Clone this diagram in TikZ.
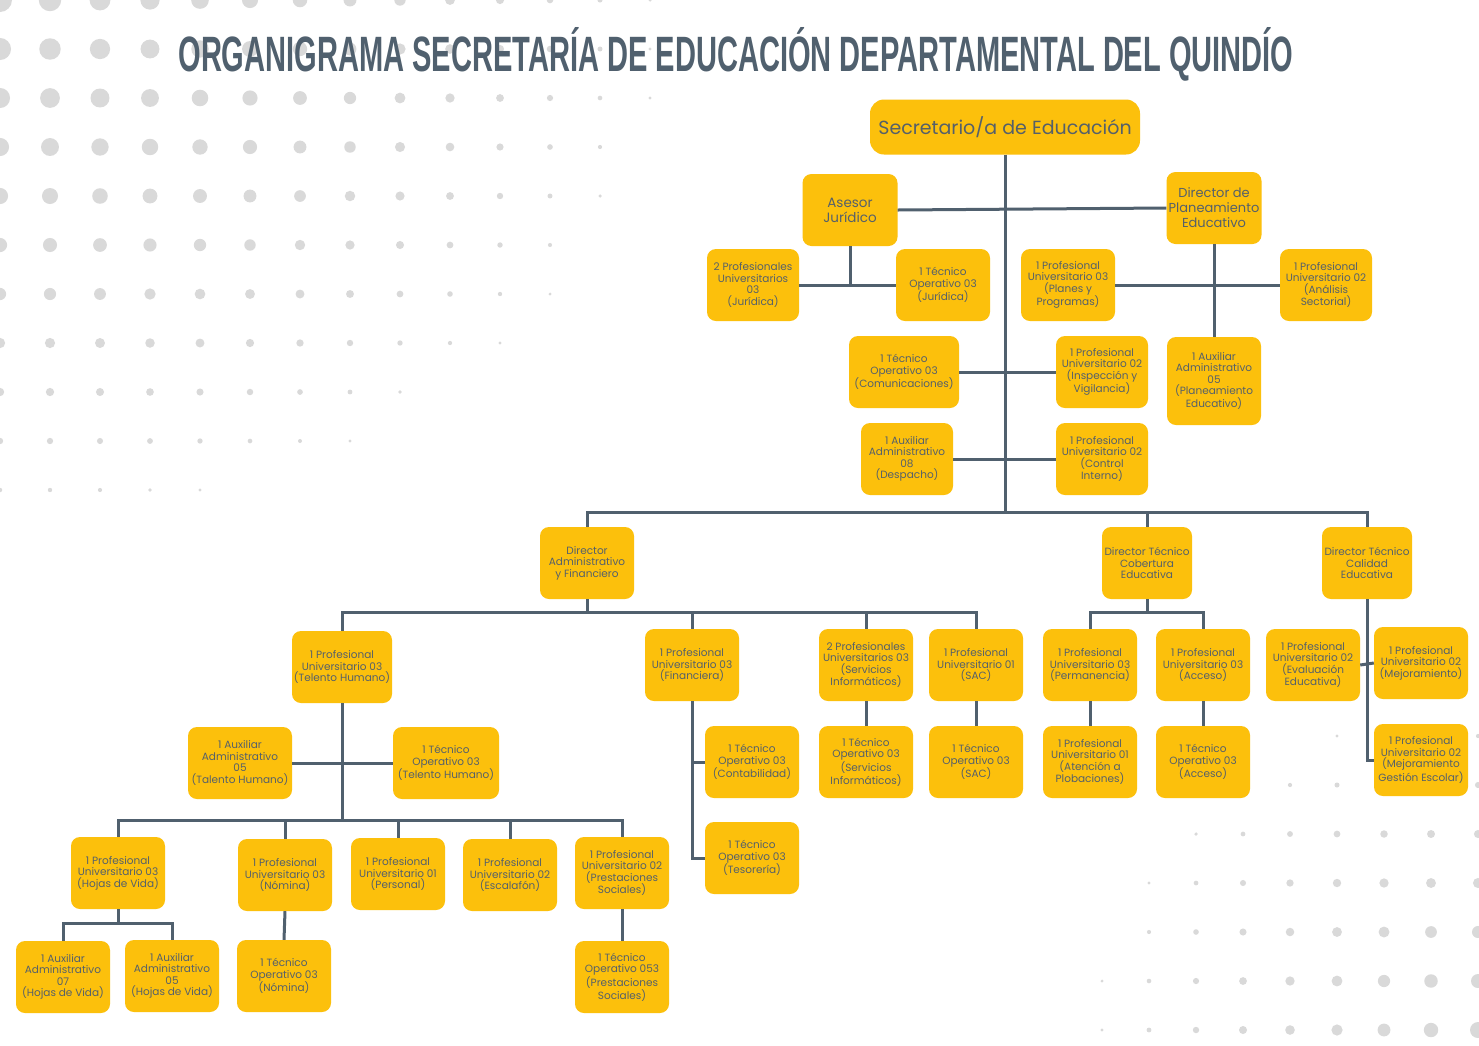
\documentclass[tikz,border=0pt]{standalone}
\usepackage{fontspec}
\usepackage{graphicx}
\setmainfont{Poppins}
\newfontfamily\titlefont{Liberation Sans}
\definecolor{boxc}{RGB}{252,192,12}
\definecolor{txtc}{RGB}{85,96,106}
\definecolor{linec}{RGB}{80,96,110}
\definecolor{dotc}{RGB}{217,217,217}
\tikzset{
 bx/.style={fill=boxc,rounded corners=9pt,align=center,text=txtc,inner sep=1pt,font=\fontsize{10.5}{11.5}\selectfont},
 cn/.style={draw=linec,line width=3pt},
}
\newcommand{\bxn}[6]{\node[bx,minimum width=#4pt,minimum height=#5pt] (#1) at (#2,#3) {#6};}
\begin{document}
\begin{tikzpicture}[x=1pt,y=-1pt]
\useasboundingbox (0,0) rectangle (1479,1045);
\fill[white] (0,0) rectangle (1479,1045);
% dots
\foreach \i in {0,...,14}{\foreach \j in {0,...,21}{
  \pgfmathsetmacro{\dx}{\i*0.5}\pgfmathsetmacro{\dy}{\j*0.49}
  \pgfmathsetmacro{\r}{12*(1-sqrt(\dx*\dx+\dy*\dy*1.6)/7.6)}
  \ifdim\r pt>1.5pt \fill[dotc] (\i*50,\j*49) circle (\r);\fi
}}
\foreach \i in {0,...,10}{\foreach \j in {0,...,9}{
  \pgfmathsetmacro{\dx}{\i*0.47}\pgfmathsetmacro{\dy}{\j*0.49}
  \pgfmathsetmacro{\r}{8*(1-sqrt(\dx*\dx+\dy*\dy*1.4)/4.7)}
  \ifdim\r pt>1.5pt \fill[dotc] (1478-\i*47,1030-\j*49) circle (\r);\fi
}}
\node[text=linec,inner sep=0] (title) at (736,54) {\resizebox{1115pt}{44pt}{\titlefont\bfseries ORGANIGRAMA SECRETARÍA DE EDUCACIÓN DEPARTAMENTAL DEL QUINDÍO}};
% nodes
\node[bx,minimum width=270pt,minimum height=55pt,rounded corners=14pt,font=\fontsize{19}{22}\selectfont] (sec) at (1005,127) {Secretario/a de Educación};
\node[bx,minimum width=95pt,minimum height=72pt,font=\fontsize{13.5}{15}\selectfont] (ase) at (850,210) {Asesor\\Jurídico};
\node[bx,minimum width=95pt,minimum height=72pt,font=\fontsize{13}{15}\selectfont] (dpe) at (1214,208) {Director de\\Planeamiento\\Educativo};
\bxn{p2j}{753}{285}{92}{72}{2 Profesionales\\Universitarios\\03\\(Jurídica)}
\bxn{t03j}{943}{285}{94}{72}{1 Técnico\\Operativo 03\\(Jurídica)}
\bxn{pupp}{1068}{285}{94}{72}{1 Profesional\\Universitario 03\\(Planes y\\Programas)}
\bxn{puas}{1326}{285}{92}{72}{1 Profesional\\Universitario 02\\(Análisis\\Sectorial)}
\bxn{tcom}{904}{372}{110}{72}{1 Técnico\\Operativo 03\\(Comunicaciones)}
\bxn{puiv}{1102}{372}{92}{72}{1 Profesional\\Universitario 02\\(Inspección y\\Vigilancia)}
\bxn{auxpe}{1214}{381}{94}{88}{1 Auxiliar\\Administrativo\\05\\(Planeamiento\\Educativo)}
\bxn{aux08}{907}{459}{92}{72}{1 Auxiliar\\Administrativo\\08\\(Despacho)}
\bxn{puci}{1102}{459}{92}{72}{1 Profesional\\Universitario 02\\(Control\\Interno)}
\bxn{dafin}{587}{563}{94}{72}{Director\\Administrativo\\y Financiero}
\bxn{dtce}{1147}{563}{90}{72}{Director Técnico\\Cobertura\\Educativa}
\bxn{dtca}{1367}{563}{90}{72}{Director Técnico\\Calidad\\Educativa}
\bxn{puth}{342}{667}{100}{72}{1 Profesional\\Universitario 03\\(Telento Humano)}
\bxn{pufin}{692}{665}{94}{72}{1 Profesional\\Universitario 03\\(Financiera)}
\bxn{pusi}{866}{665}{94}{72}{2 Profesionales\\Universitarios 03\\(Servicios\\Informáticos)}
\bxn{pusac}{976}{665}{94}{72}{1 Profesional\\Universitario 01\\(SAC)}
\bxn{puper}{1090}{665}{94}{72}{1 Profesional\\Universitario 03\\(Permanencia)}
\bxn{puacc}{1203}{665}{94}{72}{1 Profesional\\Universitario 03\\(Acceso)}
\bxn{puee}{1313}{665}{94}{72}{1 Profesional\\Universitario 02\\(Evaluación\\Educativa)}
\bxn{pumej}{1421}{663}{94}{72}{1 Profesional\\Universitario 02\\(Mejoramiento)}
\bxn{auxth}{240}{763}{104}{72}{1 Auxiliar\\Administrativo\\05\\(Talento Humano)}
\bxn{tth}{446}{763}{106}{72}{1 Técnico\\Operativo 03\\(Telento Humano)}
\bxn{tcon}{752}{762}{94}{72}{1 Técnico\\Operativo 03\\(Contabilidad)}
\bxn{tsi}{866}{762}{94}{72}{1 Técnico\\Operativo 03\\(Servicios\\Informáticos)}
\bxn{tsac}{976}{762}{94}{72}{1 Técnico\\Operativo 03\\(SAC)}
\bxn{puap}{1090}{762}{94}{72}{1 Profesional\\Universitario 01\\(Atención a\\Plobaciones)}
\bxn{tacc}{1203}{762}{94}{72}{1 Técnico\\Operativo 03\\(Acceso)}
\bxn{pumge}{1421}{760}{94}{72}{1 Profesional\\Universitario 02\\(Mejoramiento\\Gestión Escolar)}
\bxn{ttes}{752}{858}{94}{72}{1 Técnico\\Operativo 03\\(Tesorería)}
\bxn{puhv}{118}{873}{94}{72}{1 Profesional\\Universitario 03\\(Hojas de Vida)}
\bxn{punom}{285}{875}{94}{72}{1 Profesional\\Universitario 03\\(Nómina)}
\bxn{pupers}{398}{874}{94}{72}{1 Profesional\\Universitario 01\\(Personal)}
\bxn{puesc}{510}{875}{94}{72}{1 Profesional\\Universitario 02\\(Escalafón)}
\bxn{pups}{622}{873}{94}{72}{1 Profesional\\Universitario 02\\(Prestaciones\\Sociales)}
\bxn{aux07hv}{63}{977}{94}{72}{1 Auxiliar\\Administrativo\\07\\(Hojas de Vida)}
\bxn{aux05hv}{172}{976}{94}{72}{1 Auxiliar\\Administrativo\\05\\(Hojas de Vida)}
\bxn{tnom}{284}{976}{94}{72}{1 Técnico\\Operativo 03\\(Nómina)}
\bxn{tps}{622}{977}{94}{72}{1 Técnico\\Operativo 053\\(Prestaciones\\Sociales)}
% connectors
\coordinate (b1) at (1005,512);
\draw[cn] (sec.south) -- (b1);
\draw[cn] (ase.east) -- (dpe.west);
\draw[cn] (ase.south) -- (850,285);
\draw[cn] (p2j.east) -- (t03j.west);
\draw[cn] (dpe.south) -- (auxpe.north);
\draw[cn] (pupp.east) -- (puas.west);
\draw[cn] (tcom.east) -- (puiv.west);
\draw[cn] (aux08.east) -- (puci.west);
\draw[cn] (dafin.north) |- (b1) -| (dtca.north);
\draw[cn] (b1) -| (dtce.north);
\coordinate (b2) at (587,612);
\draw[cn] (dafin.south) -- (b2);
\draw[cn] (puth.north) |- (b2) -| (pusac.north);
\draw[cn] (pufin.north) |- (b2);
\draw[cn] (pusi.north) |- (b2);
\coordinate (b3) at (342,820);
\draw[cn] (puth.south) -- (b3);
\draw[cn] (auxth.east) -- (tth.west);
\draw[cn] (puhv.north) |- (b3) -| (pups.north);
\draw[cn] (punom.north) |- (b3);
\draw[cn] (pupers.north) |- (b3);
\draw[cn] (puesc.north) |- (b3);
\coordinate (b4) at (118,923);
\draw[cn] (puhv.south) -- (b4);
\draw[cn] (aux07hv.north) |- (b4) -| (aux05hv.north);
\draw[cn] (punom.south) -- (tnom.north);
\draw[cn] (pups.south) -- (tps.north);
\draw[cn] (pufin.south) |- (ttes.west);
\coordinate (fj) at (692,762);
\draw[cn] (fj) -- (tcon.west);
\draw[cn] (pusi.south) -- (tsi.north);
\draw[cn] (pusac.south) -- (tsac.north);
\coordinate (b5) at (1147,612);
\draw[cn] (dtce.south) -- (b5);
\draw[cn] (puper.north) |- (b5) -| (puacc.north);
\draw[cn] (puper.south) -- (puap.north);
\draw[cn] (puacc.south) -- (tacc.north);
\draw[cn] (dtca.south) |- (pumge.west);
\draw[cn] (puee.east) -- (pumej.west);
\end{tikzpicture}
\end{document}
